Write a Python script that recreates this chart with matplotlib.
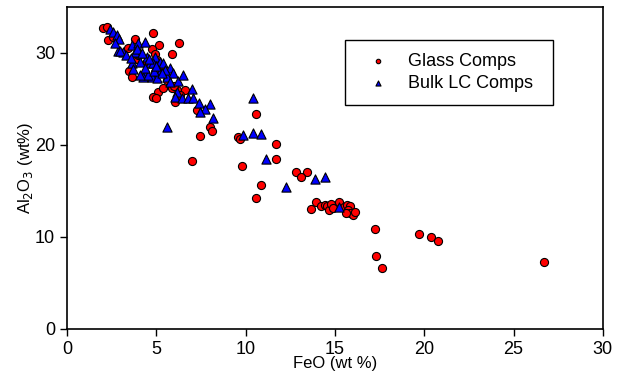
import numpy as np
import matplotlib
matplotlib.use('Agg')
import matplotlib.pyplot as plt

plt.rcParams['font.family'] = ['Liberation Sans', 'DejaVu Sans']

# Glass Comps (FeO, Al2O3)
glass_feo = [2.03, 2.22, 2.31, 2.59, 4.83, 5.13, 6.25, 5.88, 3.82, 3.41, 4.74, 4.95,
             3.93, 3.47, 3.62, 5.02, 4.92, 5.11, 4.80, 5.01, 6.14, 6.60, 5.89, 6.08,
             6.32, 7.26, 8.00, 8.10, 7.44, 9.60, 9.68, 10.58, 11.73, 7.01, 9.81, 11.68,
             12.81, 13.45, 13.13, 10.87, 10.56, 13.69,
             13.97, 14.20, 14.44, 14.57, 14.66, 14.77, 14.90, 15.24, 15.50, 15.69, 15.84,
             15.71, 15.84, 16.02, 16.13, 15.65,
             17.25, 19.70, 20.39, 20.76, 17.31, 17.63, 26.71,
             4.0, 4.5, 5.2, 5.6, 6.0, 5.4]
glass_al = [32.68, 32.86, 31.41, 31.77, 32.14, 30.84, 31.05, 29.86, 31.49, 30.54, 30.43, 29.86,
            29.32, 28.08, 27.36, 29.24, 27.97, 25.76, 25.25, 25.11, 25.98, 25.98, 26.16, 24.64,
            25.43, 23.80, 21.99, 21.47, 20.98, 20.82, 20.60, 23.37, 20.11, 18.29, 17.72, 18.45,
            17.10, 17.10, 16.49, 15.68, 14.24, 13.08,
            13.84, 13.40, 13.48, 13.37, 12.93, 13.59, 13.12, 13.84, 13.29, 13.48, 13.37,
            12.93, 12.58, 12.39, 12.75, 12.58,
            10.87, 10.29, 10.03, 9.57, 7.97, 6.63, 7.25,
            29.8, 29.0, 28.5, 27.0, 26.4, 26.2]

# Bulk LC Comps (FeO, Al2O3)
bulk_feo = [2.41, 2.59, 2.80, 2.93, 2.87, 3.15, 3.62, 3.99, 4.36, 3.62, 4.09, 4.46,
            4.64, 4.92, 5.20, 5.39, 5.76, 5.95, 5.20, 4.36, 4.27, 4.74, 5.02, 5.58,
            5.76, 6.23, 6.52, 6.14, 6.04, 6.47, 7.02, 6.79, 7.07, 7.40, 8.02, 7.74,
            7.44, 8.19, 5.58, 10.39, 9.88, 10.39, 10.86, 11.14, 12.29, 13.86, 14.42, 15.24,
            2.69, 2.97, 3.81, 4.09, 4.83, 5.48, 4.55,
            3.3, 3.6, 3.9, 4.2, 4.4, 4.6, 4.9, 3.7, 4.1, 5.0, 5.3]
bulk_al = [32.61, 32.32, 31.96, 31.49, 30.25, 30.14, 30.87, 31.12, 31.23, 28.88, 29.97, 29.60,
           28.88, 29.60, 29.05, 28.88, 28.34, 27.86, 27.97, 27.79, 27.42, 27.42, 27.25, 27.42,
           26.88, 26.96, 27.61, 25.79, 25.18, 25.08, 26.05, 25.08, 25.08, 24.53, 24.49, 23.88,
           23.62, 22.90, 21.90, 25.08, 21.09, 21.27, 21.16, 18.45, 15.47, 16.30, 16.49, 13.29,
           31.05, 30.22, 30.14, 29.05, 28.88, 28.15, 27.61,
           29.8, 29.4, 30.4, 30.0, 28.4, 29.3, 28.0, 28.2, 27.6, 28.6, 27.8]

fig = plt.figure(figsize=(6.19, 3.81), dpi=100)
ax = fig.add_axes([0.108, 0.1365, 0.866, 0.8455])

ax.scatter(glass_feo, glass_al, s=34, marker='o', c='#ff0000', edgecolors='black',
           linewidths=0.8, label='Glass Comps', zorder=2)
ax.scatter(bulk_feo, bulk_al, s=44, marker='^', c='#0000ff', edgecolors='black',
           linewidths=0.8, label='Bulk LC Comps', zorder=3)

ax.set_xlim(0, 30)
ax.set_ylim(0, 35)
ax.set_xticks([0, 5, 10, 15, 20, 25, 30])
ax.set_yticks([0, 10, 20, 30])
ax.tick_params(direction='out', length=5, width=1, labelsize=13, top=False, right=False)
for s in ax.spines.values():
    s.set_linewidth(1.2)

ax.set_xlabel('FeO (wt %)', fontsize=12, labelpad=-1)
ax.set_ylabel('Al$_2$O$_3$ (wt%)', fontsize=12, labelpad=0)

leg = ax.legend(loc='upper left', bbox_to_anchor=(0.519, 0.7975, 0.388, 0.1),
                mode='expand', fontsize=13, markerscale=0.55, fancybox=False,
                edgecolor='black', framealpha=1, borderpad=0.7, handlelength=2.3,
                handletextpad=0.5, labelspacing=0.3, borderaxespad=0)
leg.get_frame().set_linewidth(1.0)

fig.savefig('out.png', dpi=100)
